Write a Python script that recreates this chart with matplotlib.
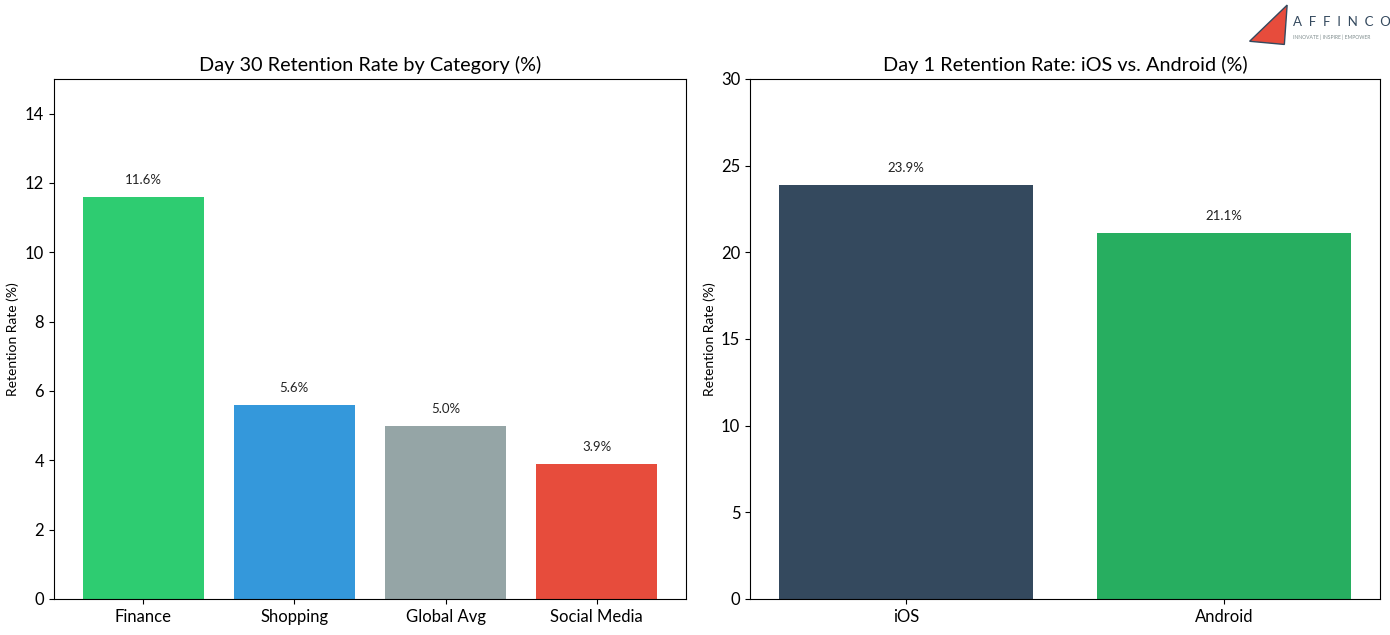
"""
Retention rate comparison: Day 30 by category, Day 1 by platform
"""

import numpy as np
import matplotlib.pyplot as plt
from matplotlib.patches import Polygon

plt.rcParams['font.family'] = ['Lato', 'DejaVu Sans']

####################################
# Data
categories = ['Finance', 'Shopping', 'Global Avg', 'Social Media']
day30 = [11.6, 5.6, 5.0, 3.9]
cat_colors = ['#2ecc71', '#3498db', '#95a5a6', '#e74c3c']

platforms = ['iOS', 'Android']
day1 = [23.9, 21.1]
plat_colors = ['#34495e', '#27ae60']

####################################
# Figure
fig = plt.figure(figsize=(13.9, 6.35), dpi=100)
ax1 = fig.add_axes([0.0388, 0.0567, 0.4547, 0.8189])
ax2 = fig.add_axes([0.5396, 0.0567, 0.4532, 0.8189])

def bars(ax, labels, vals, colors, title, ymax, step):
    x = np.arange(len(labels))
    b = ax.bar(x, vals, color=colors, width=0.8)
    for rect, v in zip(b, vals):
        ax.annotate(f'{v:.1f}%', (rect.get_x() + rect.get_width()/2, v),
                    xytext=(0, 8), textcoords='offset points',
                    ha='center', va='bottom', fontsize=9.5, color='#222222')
    ax.set_xticks(x)
    ax.set_xticklabels(labels, fontsize=12)
    ax.set_ylim(0, ymax)
    ax.set_yticks(np.arange(0, ymax + 0.01, step))
    ax.tick_params(axis='y', labelsize=12)
    ax.set_ylabel('Retention Rate (%)', fontsize=10)
    ax.set_title(title, fontsize=14.3, pad=6)

bars(ax1, categories, day30, cat_colors,
     'Day 30 Retention Rate by Category (%)', 15, 2)
ax1.set_yticks(np.arange(0, 15, 2))
bars(ax2, platforms, day1, plat_colors,
     'Day 1 Retention Rate: iOS vs. Android (%)', 30, 5)

####################################
# Logo
fig.patches.append(Polygon([[0.899, 0.935], [0.926, 0.992], [0.924, 0.930]],
                           closed=True, transform=fig.transFigure,
                           facecolor='#e74c3c', edgecolor='#34495e', lw=1))
fig.text(0.930, 0.965, 'A  F  F  I  N  C  O', fontsize=9.5, color='#34495e',
         ha='left', va='center')
fig.text(0.930, 0.942, 'INNOVATE | INSPIRE | EMPOWER', fontsize=3.6,
         color='#7f8c8d', ha='left', va='center')

plt.savefig('out.png', dpi=100)
plt.close()
